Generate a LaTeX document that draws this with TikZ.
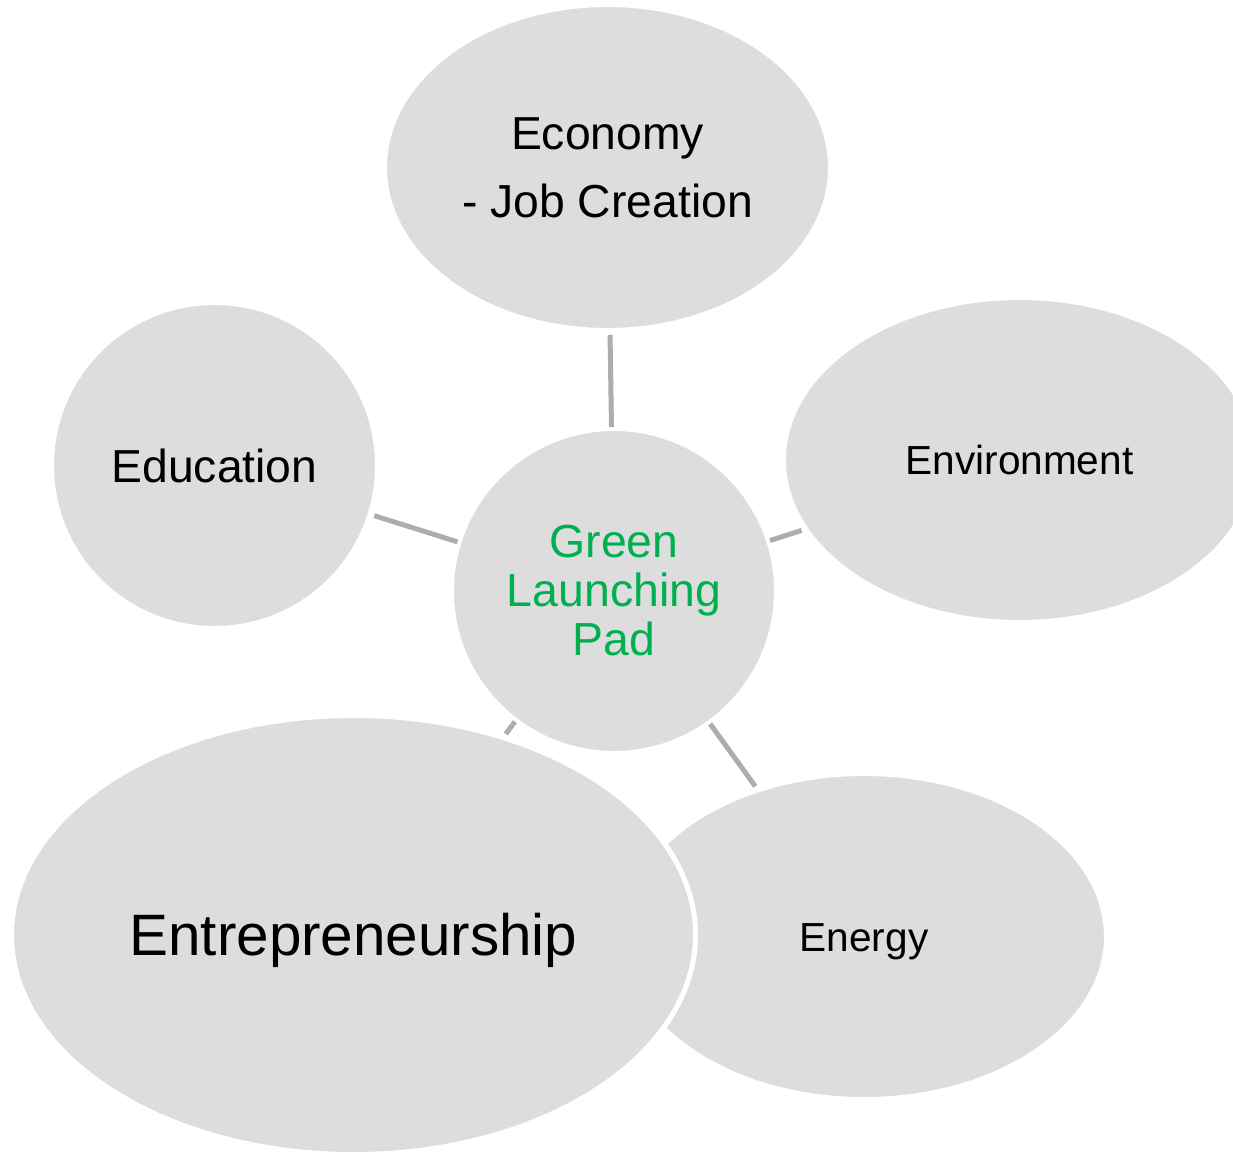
\documentclass[tikz,border=0pt]{standalone}
\usepackage{fontspec}
\setmainfont{Liberation Sans}
\usetikzlibrary{shapes.geometric}
\definecolor{bubblefill}{HTML}{DDDDDD}
\definecolor{linkgray}{HTML}{ADADAD}
\definecolor{padgreen}{HTML}{00B050}
\begin{document}
\begin{tikzpicture}[x=0.5pt,y=-0.5pt,
  bubble/.style={ellipse, fill=bubblefill, draw=white, line width=2.5pt,
    inner sep=0pt, outer sep=0pt, text=black},
  oneline/.style={text depth=0pt, text height=#1},
  link/.style={draw=linkgray, line width=2.5pt, line cap=butt,
    shorten <=0.75pt, shorten >=2.25pt}]
\clip (0,0) rectangle (1233,1152);

% outer topics
\node[bubble, minimum width=223pt, minimum height=163pt, align=center,
  font=\fontsize{23.15pt}{34pt}\selectfont]
  (econ) at (607.5,167.5) {Economy\\- Job Creation};
\node[bubble, minimum width=163pt, minimum height=163pt, oneline=16.6pt,
  font=\fontsize{23.15pt}{28pt}\selectfont]
  (edu) at (214.5,465.5) {Education};
\node[bubble, minimum width=236pt, minimum height=162.5pt, oneline=14.5pt,
  font=\fontsize{20.3pt}{24pt}\selectfont]
  (env) at (1019.5,460) {Environment};
\node[bubble, minimum width=242.5pt, minimum height=163pt, oneline=14.5pt,
  font=\fontsize{20.3pt}{24pt}\selectfont]
  (energy) at (864,936.5) {Energy};
\node[bubble, minimum width=342pt, minimum height=219.5pt, oneline=20.9pt,
  font=\fontsize{29.2pt}{35pt}\selectfont]
  (entre) at (353.5,935) {Entrepreneurship};

% hub
\node[bubble, minimum width=162.5pt, minimum height=162.5pt, align=center,
  text=padgreen, font=\fontsize{23.2pt}{24.5pt}\selectfont]
  (hub) at (614,591) {Green\\Launching\\Pad};

% spokes
\draw[link] (hub) -- (econ);
\draw[link] (hub) -- (edu);
\draw[link] (hub) -- (env);
\draw[link] (hub) -- (entre);
\draw[link] (hub) -- (energy);
\end{tikzpicture}
\end{document}
